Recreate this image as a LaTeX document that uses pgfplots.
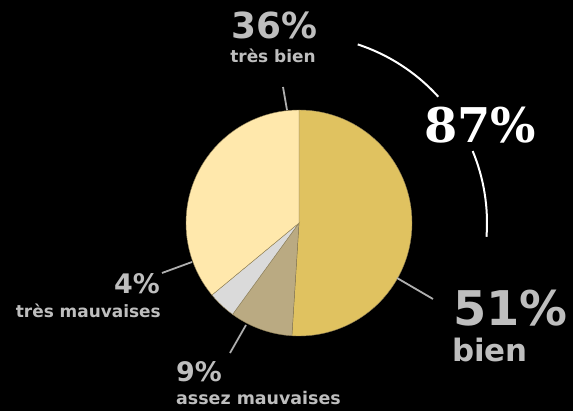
\documentclass[border=0pt]{standalone}
\usepackage{pgfplots}
\usepackage{pgfplotstable}
\pgfplotsset{compat=1.18}
\usepackage{fontspec}
\setmainfont{DejaVu Sans}
\newfontfamily\bigserif{DejaVu Serif}
\definecolor{cbien}{RGB}{224,194,96}
\definecolor{cassez}{RGB}{186,170,130}
\definecolor{ctres}{RGB}{218,218,218}
\definecolor{ctresbien}{RGB}{255,232,172}
\definecolor{labgray}{RGB}{190,190,190}
\definecolor{linegray}{RGB}{175,175,175}
\definecolor{edge}{RGB}{140,125,85}
\pgfplotstableread{
label value
bien 51
assez 9
tresmauv 4
tresbien 36
}\piedata
\begin{document}
\begin{tikzpicture}
\pgfplotstablegetelem{0}{value}\of\piedata \let\vA\pgfplotsretval
\pgfplotstablegetelem{1}{value}\of\piedata \let\vB\pgfplotsretval
\pgfplotstablegetelem{2}{value}\of\piedata \let\vC\pgfplotsretval
\pgfplotstablegetelem{3}{value}\of\piedata \let\vD\pgfplotsretval
\pgfmathsetmacro\aO{90}
\pgfmathsetmacro\aA{\aO-3.6*\vA}
\pgfmathsetmacro\aB{\aA-3.6*\vB}
\pgfmathsetmacro\aC{\aB-3.6*\vC}
\pgfmathsetmacro\aD{\aC-3.6*\vD}
\begin{axis}[
  width=573bp, height=411bp, scale only axis,
  xmin=0, xmax=573, ymin=0, ymax=411,
  hide axis, clip=false,
]
\fill[black] (axis cs:0,0) rectangle (axis cs:573,411);
% pie slices
\filldraw[fill=cbien, draw=edge, line width=0.4pt] (axis cs:299,188) -- ([shift={(\aO:113bp)}]axis cs:299,188) arc[start angle=\aO, end angle=\aA, radius=113bp] -- cycle;
\filldraw[fill=cassez, draw=edge, line width=0.4pt] (axis cs:299,188) -- ([shift={(\aA:113bp)}]axis cs:299,188) arc[start angle=\aA, end angle=\aB, radius=113bp] -- cycle;
\filldraw[fill=ctres, draw=edge, line width=0.4pt] (axis cs:299,188) -- ([shift={(\aB:113bp)}]axis cs:299,188) arc[start angle=\aB, end angle=\aC, radius=113bp] -- cycle;
\filldraw[fill=ctresbien, draw=edge, line width=0.4pt] (axis cs:299,188) -- ([shift={(\aC:113bp)}]axis cs:299,188) arc[start angle=\aC, end angle=\aD, radius=113bp] -- cycle;
% leader lines
\draw[linegray, line width=1.8pt] (axis cs:283,324) -- (axis cs:287,301);
\draw[linegray, line width=1.8pt] (axis cs:397,133) -- (axis cs:433,112);
\draw[linegray, line width=1.8pt] (axis cs:162,138) -- (axis cs:192,149);
\draw[linegray, line width=1.8pt] (axis cs:230,58) -- (axis cs:246,86);
% white arc
\draw[white, line width=2pt] ([shift={(71.8:188bp)}]axis cs:299,188) arc[start angle=71.8, end angle=42.2, radius=188bp];
\draw[white, line width=2pt] ([shift={(22.5:188bp)}]axis cs:299,188) arc[start angle=22.5, end angle=-4.2, radius=188bp];
% labels
\node[anchor=base, text=white, inner sep=0pt, font=\bigserif\bfseries\fontsize{48}{48}\selectfont] at (axis cs:480,268) {87\%};
\node[anchor=base, text=labgray, inner sep=0pt, font=\bfseries\fontsize{36}{36}\selectfont] at (axis cs:274,372) {36\%};
\node[anchor=base, text=labgray, inner sep=0pt, font=\bfseries\fontsize{17}{17}\selectfont] at (axis cs:273,348) {très bien};
\node[anchor=base west, text=labgray, inner sep=0pt, font=\bfseries\fontsize{48}{48}\selectfont] at (axis cs:453,85) {51\%};
\node[anchor=base west, text=labgray, inner sep=0pt, font=\bfseries\fontsize{31}{31}\selectfont] at (axis cs:452,49) {bien};
\node[anchor=base east, text=labgray, inner sep=0pt, font=\bfseries\fontsize{27}{27}\selectfont] at (axis cs:160,117) {4\%};
\node[anchor=base east, text=labgray, inner sep=0pt, font=\bfseries\fontsize{17}{17}\selectfont] at (axis cs:161,93) {très mauvaises};
\node[anchor=base west, text=labgray, inner sep=0pt, font=\bfseries\fontsize{27}{27}\selectfont] at (axis cs:176,29) {9\%};
\node[anchor=base west, text=labgray, inner sep=0pt, font=\bfseries\fontsize{17.5}{17.5}\selectfont] at (axis cs:176,6) {assez mauvaises};
\end{axis}
\end{tikzpicture}
\end{document}
